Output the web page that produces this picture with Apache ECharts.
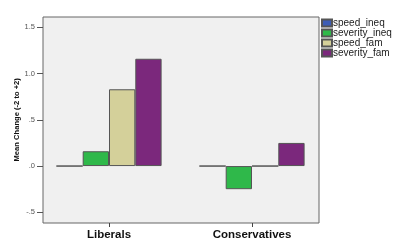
<!DOCTYPE html>
<html><head><meta charset="utf-8">
<script src="https://cdn.jsdelivr.net/npm/echarts@6/dist/echarts.min.js"></script>
<style>html,body{margin:0;padding:0;background:#fff}#c{width:400px;height:250px}</style>
</head><body><div id="c"></div>
<script>
const categories = ['Liberals', 'Conservatives'];
const seriesNames = ['speed_ineq', 'severity_ineq', 'speed_fam', 'severity_fam'];
const speed_ineq = [0, 0];
const severity_ineq = [0.16, -0.25];
const speed_fam = [0.83, 0];
const severity_fam = [1.16, 0.25];
const yTicks = [-0.5, 0, 0.5, 1.0, 1.5];
const yTickLabels = ['-.5', '.0', '.5', '1.0', '1.5'];

const colors = ['#3d5db6', '#2fb84a', '#d4d09a', '#7b287c'];
const values = [speed_ineq, severity_ineq, speed_fam, severity_fam];

const chart = echarts.init(document.getElementById('c'), null, {renderer: 'canvas'});
const labelFor = v => {
  for (let i = 0; i < yTicks.length; i++) if (Math.abs(v - yTicks[i]) < 1e-6) return yTickLabels[i];
  return '';
};
chart.setOption({
  animation: false,
  backgroundColor: '#ffffff',
  legend: {
    orient: 'vertical', left: 321, top: 18, padding: 0,
    icon: 'rect',
    itemWidth: 10, itemHeight: 7, itemGap: 0,
    textStyle: {fontFamily: 'Liberation Sans, Arial', fontSize: 10, color: '#222', lineHeight: 8.8, padding: [0, 0, 0, -4]},
    data: seriesNames
  },
  grid: [
    {left: 43, top: 17, width: 276, height: 206, show: true, backgroundColor: '#f0f0f0', borderColor: '#666', borderWidth: 1},
    {left: 43, top: 27.3, width: 276, height: 185},
    {left: 37.5, top: 27.3, width: 286, height: 185}
  ],
  xAxis: [
    {gridIndex: 0, type: 'category', data: categories, show: false},
    {gridIndex: 1, type: 'category', data: categories, show: false},
    {gridIndex: 2, type: 'category', data: categories, offset: 10.7, position: 'bottom',
     axisLine: {show: false, onZero: false},
     axisTick: {show: true, alignWithLabel: true, length: 4, lineStyle: {color: '#444'}},
     axisLabel: {margin: 6, fontFamily: 'Liberation Sans, Arial', fontSize: 11.5, fontWeight: 'bold', color: '#111'}}
  ],
  yAxis: [
    {gridIndex: 0, type: 'value', show: false, splitLine: {show: false}},
    {gridIndex: 1, type: 'value', min: -0.5, max: 1.5, interval: 0.5,
     name: 'Mean Change (-2 to +2)', nameLocation: 'middle', nameGap: 22, nameMoveOverlap: false,
     nameTextStyle: {fontFamily: 'Liberation Sans, Arial', fontWeight: 'bold', fontSize: 7.6, color: '#111'},
     axisLine: {show: false},
     axisTick: {show: true, length: 6, lineStyle: {color: '#555'}},
     splitLine: {show: false},
     axisLabel: {margin: 8, fontFamily: 'Liberation Sans, Arial', fontSize: 7.5, color: '#555', formatter: labelFor}},
    {gridIndex: 2, type: 'value', min: -0.5, max: 1.5, interval: 0.5, show: false, splitLine: {show: false}}
  ],
  series: seriesNames.map((n, i) => ({
    name: n, type: 'bar', xAxisIndex: 2, yAxisIndex: 2,
    data: values[i], barWidth: 26.3, barGap: '0%',
    itemStyle: {color: colors[i], borderColor: '#555', borderWidth: 1}
  }))
});
</script></body></html>
